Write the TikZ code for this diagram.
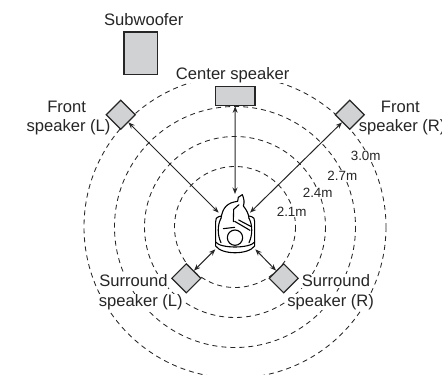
\documentclass[tikz,border=0pt]{standalone}
\usepackage{fontspec}
\setmainfont{Liberation Sans}
\usetikzlibrary{arrows.meta,shapes.geometric}
\definecolor{ink}{HTML}{262626}
\definecolor{box}{HTML}{D0D2D3}
\tikzset{
  ring/.style={draw=ink,line width=0.85pt,dash pattern=on 5pt off 4pt},
  spk/.style={draw=ink,fill=box,line width=1.2pt,inner sep=0pt},
  dia/.style={spk,diamond,minimum width=29.5pt,minimum height=29.5pt},
  lbl/.style={text=ink,font=\fontsize{16.6}{20}\selectfont,fill=white,inner sep=0.6pt},
  dist/.style={text=ink,font=\fontsize{13.4}{16}\selectfont,fill=white,inner sep=0.6pt},
  link/.style={draw=ink,line width=1pt,{Stealth[length=6.5pt,width=5pt]}-{Stealth[length=6.5pt,width=5pt]}},
  body/.style={draw=black,line width=1.1pt,line join=round,line cap=round},
}
\begin{document}
\begin{tikzpicture}[x=1pt,y=-1pt]
\useasboundingbox (0,0) rectangle (442,375);
\clip (0,0) rectangle (442,375);
\coordinate (c) at (235,227);
\foreach \r in {60.5,90.5,120.5,151}{
  \draw[ring] (c) circle[radius=\r];
}
% labels
\node[lbl] (tsub) at (143.7,20) {Subwoofer};
\node[lbl] (tcen) at (232.7,75) {Center speaker};
\node[lbl] (tfl1) at (66.7,107) {Front};
\node[lbl] (tfl2) at (68.5,127.5) {speaker (L)};
\node[lbl] (tfr1) at (400.3,107) {Front};
\node[lbl,anchor=west] (tfr2) at (358,127.5) {speaker (R)};
\node[lbl,anchor=west] (tsl1) at (98.5,281) {Surround};
\node[lbl,anchor=west] (tsl2) at (98,302) {speaker (L)};
\node[lbl,anchor=west] (tsr1) at (301,281) {Surround};
\node[lbl,anchor=west] (tsr2) at (286.5,302) {speaker (R)};
\node[dist] (d30) at (365.7,155.7) {3.0m};
\node[dist] (d27) at (342.3,176) {2.7m};
\node[dist] (d24) at (317.7,193) {2.4m};
\node[dist] (d21) at (291.7,211.7) {2.1m};
% speakers
\node[spk,minimum width=33.3pt,minimum height=42.3pt] (sub) at (140.7,53.2) {};
\node[spk,minimum width=39.5pt,minimum height=19.4pt] (cen) at (235.2,96) {};
\node[dia] (fl) at (120.7,114.7) {};
\node[dia] (fr) at (349.7,114.7) {};
\node[dia] (sl) at (186.3,278.3) {};
\node[dia] (sr) at (283.7,278.3) {};
% listener
\begin{scope}[shift={(170,170)},x=0.3333pt,y=-0.3333pt]
  \coordinate (pc) at (195,72);
  \coordinate (pfl) at (146,128);
  \coordinate (pfr) at (240,128);
  \coordinate (psl) at (136,238);
  \coordinate (psr) at (256,238);
  % chair
  \draw[body] (155,138) -- (146,140) .. controls (139,142) and (137,146) .. (137,155)
     -- (137,228) .. controls (155,255) and (235,255) .. (254,228)
     -- (254,155) .. controls (254,146) and (251,142) .. (245,140) -- (236,138);
  \draw[body] (137,216) .. controls (150,236) and (240,236) .. (254,216);
  % torso
  \draw[body] (153,145) .. controls (142,165) and (142,195) .. (153,218);
  \draw[body] (237,145) .. controls (248,165) and (248,195) .. (237,218);
  % head
  \draw[body] (195,203) circle[radius=23];
  % arms
  \draw[body] (160,176) -- (194,172);
  \draw[body] (194,154) -- (240,181);
  \draw[body] (206,150) -- (244,170);
  % legs
  \draw[body] (153,145) .. controls (158,112) and (172,98) .. (203,94)
     -- (205,82) -- (217,74) .. controls (222,85) and (224,98) .. (220,108)
     .. controls (230,120) and (236,132) .. (237,145);
  \draw[body] (190,155) -- (191,118) -- (207,104);
\end{scope}
% connectors
\draw[link] (cen.south) -- (pc);
\draw[link] (fl.south east) -- (pfl);
\draw[link] (fr.south west) -- (pfr);
\draw[link] (sl.north east) -- (psl);
\draw[link] (sr.north west) -- (psr);
\end{tikzpicture}
\end{document}
